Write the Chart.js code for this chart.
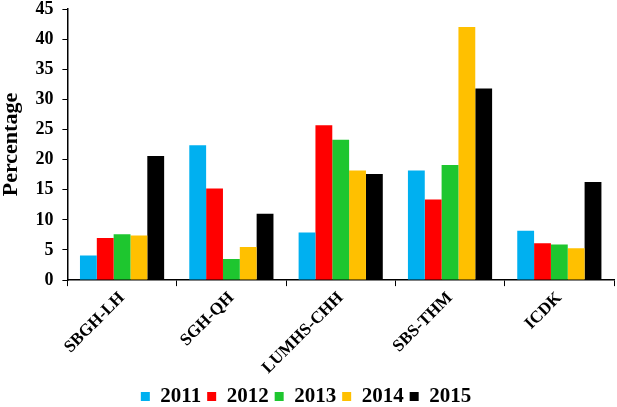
<!DOCTYPE html>
<html>
<head>
<meta charset="utf-8">
<script src="https://cdn.jsdelivr.net/npm/chart.js@4/dist/chart.umd.min.js"></script>
<style>
  html, body { margin: 0; padding: 0; background: #fff; }
  #wrap { width: 617px; height: 407px; position: relative; }
</style>
</head>
<body>
<div id="wrap"><canvas id="chartCanvas"></canvas></div>
<script>
  const sites = ['SBGH-LH', 'SGH-QH', 'LUMHS-CHH', 'SBS-THM', 'ICDK'];
  const years = ['2011', '2012', '2013', '2014', '2015'];
  const colors = ['#00B0F0', '#FF0000', '#1EC62F', '#FFC000', '#000000'];

  const v2011 = [4.1, 22.4, 7.9, 18.2, 8.2];
  const v2012 = [7.0, 15.2, 25.7, 13.4, 6.1];
  const v2013 = [7.6, 3.5, 23.3, 19.1, 5.9];
  const v2014 = [7.4, 5.5, 18.2, 42.0, 5.3];
  const v2015 = [20.6, 11.0, 17.6, 31.8, 16.3];
  const seriesValues = [v2011, v2012, v2013, v2014, v2015];

  const fontFamily = '"Liberation Serif", "Times New Roman", serif';

  new Chart(document.getElementById('chartCanvas'), {
    type: 'bar',
    data: {
      labels: sites,
      datasets: years.map((y, i) => ({
        label: y,
        data: seriesValues[i],
        backgroundColor: colors[i],
        borderWidth: 0,
        barPercentage: 1.0,
        categoryPercentage: 0.77
      }))
    },
    options: {
      responsive: true,
      maintainAspectRatio: false,
      animation: false,
      layout: { padding: { top: 0, right: 3, left: -2, bottom: -10 } },
      plugins: {
        legend: {
          position: 'bottom',
          labels: {
            boxWidth: 9,
            boxHeight: 9,
            padding: 6,
            color: '#000',
            font: { family: fontFamily, size: 21, weight: 'bold' }
          }
        },
        tooltip: { enabled: false }
      },
      scales: {
        x: {
          grid: { display: true, drawOnChartArea: false, color: '#000', tickLength: 6, offset: true },
          border: { display: true, color: '#000', width: 1.5 },
          ticks: {
            color: '#000',
            maxRotation: 45,
            minRotation: 45,
            padding: 2,
            font: { family: fontFamily, size: 17, weight: 'bold' }
          }
        },
        y: {
          min: 0,
          max: 45,
          // keep the top of the plot close to the canvas edge like the original
          afterFit: s => { s.paddingTop = 9; },
          grid: { display: true, drawOnChartArea: false, color: '#000', tickLength: 5 },
          border: { display: true, color: '#000', width: 1.5 },
          ticks: {
            stepSize: 5,
            color: '#000',
            padding: 9,
            font: { family: fontFamily, size: 18, weight: 'bold' }
          },
          title: {
            display: true,
            text: 'Percentage',
            color: '#000',
            padding: { top: 0, bottom: 2 },
            font: { family: fontFamily, size: 22, weight: 'bold' }
          }
        }
      }
    }
  });
</script>
</body>
</html>
